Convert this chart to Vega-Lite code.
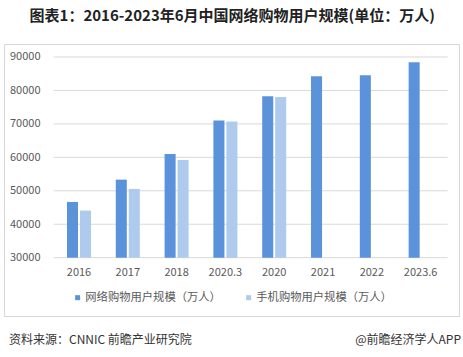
{
  "$schema": "https://vega.github.io/schema/vega-lite/v6.json",
  "background": "white",
  "padding": {"left": 3, "top": 8, "right": 5, "bottom": 4},
  "title": {"text": "图表1：2016-2023年6月中国网络购物用户规模(单位：万人)", "fontSize": 15, "fontWeight": "bold", "color": "#222222", "anchor": "middle", "offset": 20},
  "config": {"font": "Noto Sans CJK SC", "view": {"stroke": "#d6d6d6", "strokeWidth": 1}},
  "spacing": 8,
  "vconcat": [
    {
      "width": 455,
      "height": 272,
      "layer": [
        {
          "data": {"values": [{"grid": 30000}, {"grid": 40000}, {"grid": 50000}, {"grid": 60000}, {"grid": 70000}, {"grid": 80000}, {"grid": 90000}]},
          "mark": {"type": "rule", "color": "#d9d9d9", "strokeWidth": 1},
          "encoding": {
            "x": {"datum": "2016", "type": "nominal", "bandPosition": -0.554,
              "axis": {"title": null, "orient": "bottom", "offset": -52, "labelPadding": 2, "ticks": false, "tickSize": 0, "domain": false, "labelAngle": 0, "labelFontSize": 11, "labelColor": "#595959", "grid": false}},
            "x2": {"datum": "2023.6", "bandPosition": 1.625},
            "y": {"field": "grid", "type": "quantitative",
              "axis": {"title": null, "offset": -37, "values": [30000, 40000, 50000, 60000, 70000, 80000, 90000], "ticks": false, "tickSize": 0, "domain": false, "grid": false, "labelPadding": 1, "labelFontSize": 11, "labelColor": "#595959", "format": "d"}}
          }
        },
        {
          "data": {"values": [
            {"year": "2016", "series": "网络购物用户规模（万人）", "value": 46670},
            {"year": "2016", "series": "手机购物用户规模（万人）", "value": 44093},
            {"year": "2017", "series": "网络购物用户规模（万人）", "value": 53332},
            {"year": "2017", "series": "手机购物用户规模（万人）", "value": 50563},
            {"year": "2018", "series": "网络购物用户规模（万人）", "value": 61011},
            {"year": "2018", "series": "手机购物用户规模（万人）", "value": 59191},
            {"year": "2020.3", "series": "网络购物用户规模（万人）", "value": 71027},
            {"year": "2020.3", "series": "手机购物用户规模（万人）", "value": 70749},
            {"year": "2020", "series": "网络购物用户规模（万人）", "value": 78241},
            {"year": "2020", "series": "手机购物用户规模（万人）", "value": 78058},
            {"year": "2021", "series": "网络购物用户规模（万人）", "value": 84210},
            {"year": "2022", "series": "网络购物用户规模（万人）", "value": 84529},
            {"year": "2023.6", "series": "网络购物用户规模（万人）", "value": 88410}
          ]},
          "mark": {"type": "bar"},
          "encoding": {
            "x": {
              "field": "year", "type": "nominal", "sort": null,
              "scale": {"domain": ["2016", "2017", "2018", "2020.3", "2020", "2021", "2022", "2023.6"], "paddingInner": 0.508, "paddingOuter": 0.915, "align": 0.705},
              "axis": {"title": null, "orient": "bottom", "offset": -52, "labelPadding": 2, "ticks": false, "tickSize": 0, "domain": false, "labelAngle": 0, "labelFontSize": 11, "labelColor": "#595959", "grid": false}
            },
            "xOffset": {
              "field": "series", "type": "nominal",
              "scale": {"domain": ["网络购物用户规模（万人）", "手机购物用户规模（万人）"], "paddingInner": 0.15, "paddingOuter": 0}
            },
            "y": {
              "field": "value", "type": "quantitative",
              "scale": {"domain": [12571, 93886], "zero": false, "nice": false},
              "axis": {"title": null, "offset": -37, "values": [30000, 40000, 50000, 60000, 70000, 80000, 90000], "ticks": false, "tickSize": 0, "domain": false, "grid": false, "labelPadding": 1, "labelFontSize": 11, "labelColor": "#595959", "format": "d"}
            },
            "y2": {"datum": 30000},
            "color": {
              "field": "series", "type": "nominal",
              "scale": {"domain": ["网络购物用户规模（万人）", "手机购物用户规模（万人）"], "range": ["#5B93DB", "#AECBEE"]},
              "legend": {"title": null, "orient": "none", "legendX": 68, "legendY": 248, "direction": "horizontal", "symbolType": "square", "symbolSize": 25, "labelFontSize": 11.3, "labelColor": "#595959", "columnPadding": 22, "labelOffset": 2, "padding": 0, "symbolStrokeWidth": 0}
            }
          }
        }
      ]
    },
    {
      "width": 455,
      "height": 30,
      "view": {"stroke": null},
      "data": {"values": [{"source": "资料来源：CNNIC 前瞻产业研究院", "credit": "@前瞻经济学人APP"}]},
      "layer": [
        {
          "mark": {"type": "text", "align": "left", "dx": 5, "fontSize": 12, "color": "#333333"},
          "encoding": {
            "x": {"datum": 0, "type": "quantitative", "scale": {"domain": [0, 1]}, "axis": null},
            "text": {"field": "source"}
          }
        },
        {
          "mark": {"type": "text", "align": "right", "dx": 2, "fontSize": 12, "color": "#333333"},
          "encoding": {
            "x": {"datum": 1, "type": "quantitative", "axis": null},
            "text": {"field": "credit"}
          }
        }
      ]
    }
  ]
}
